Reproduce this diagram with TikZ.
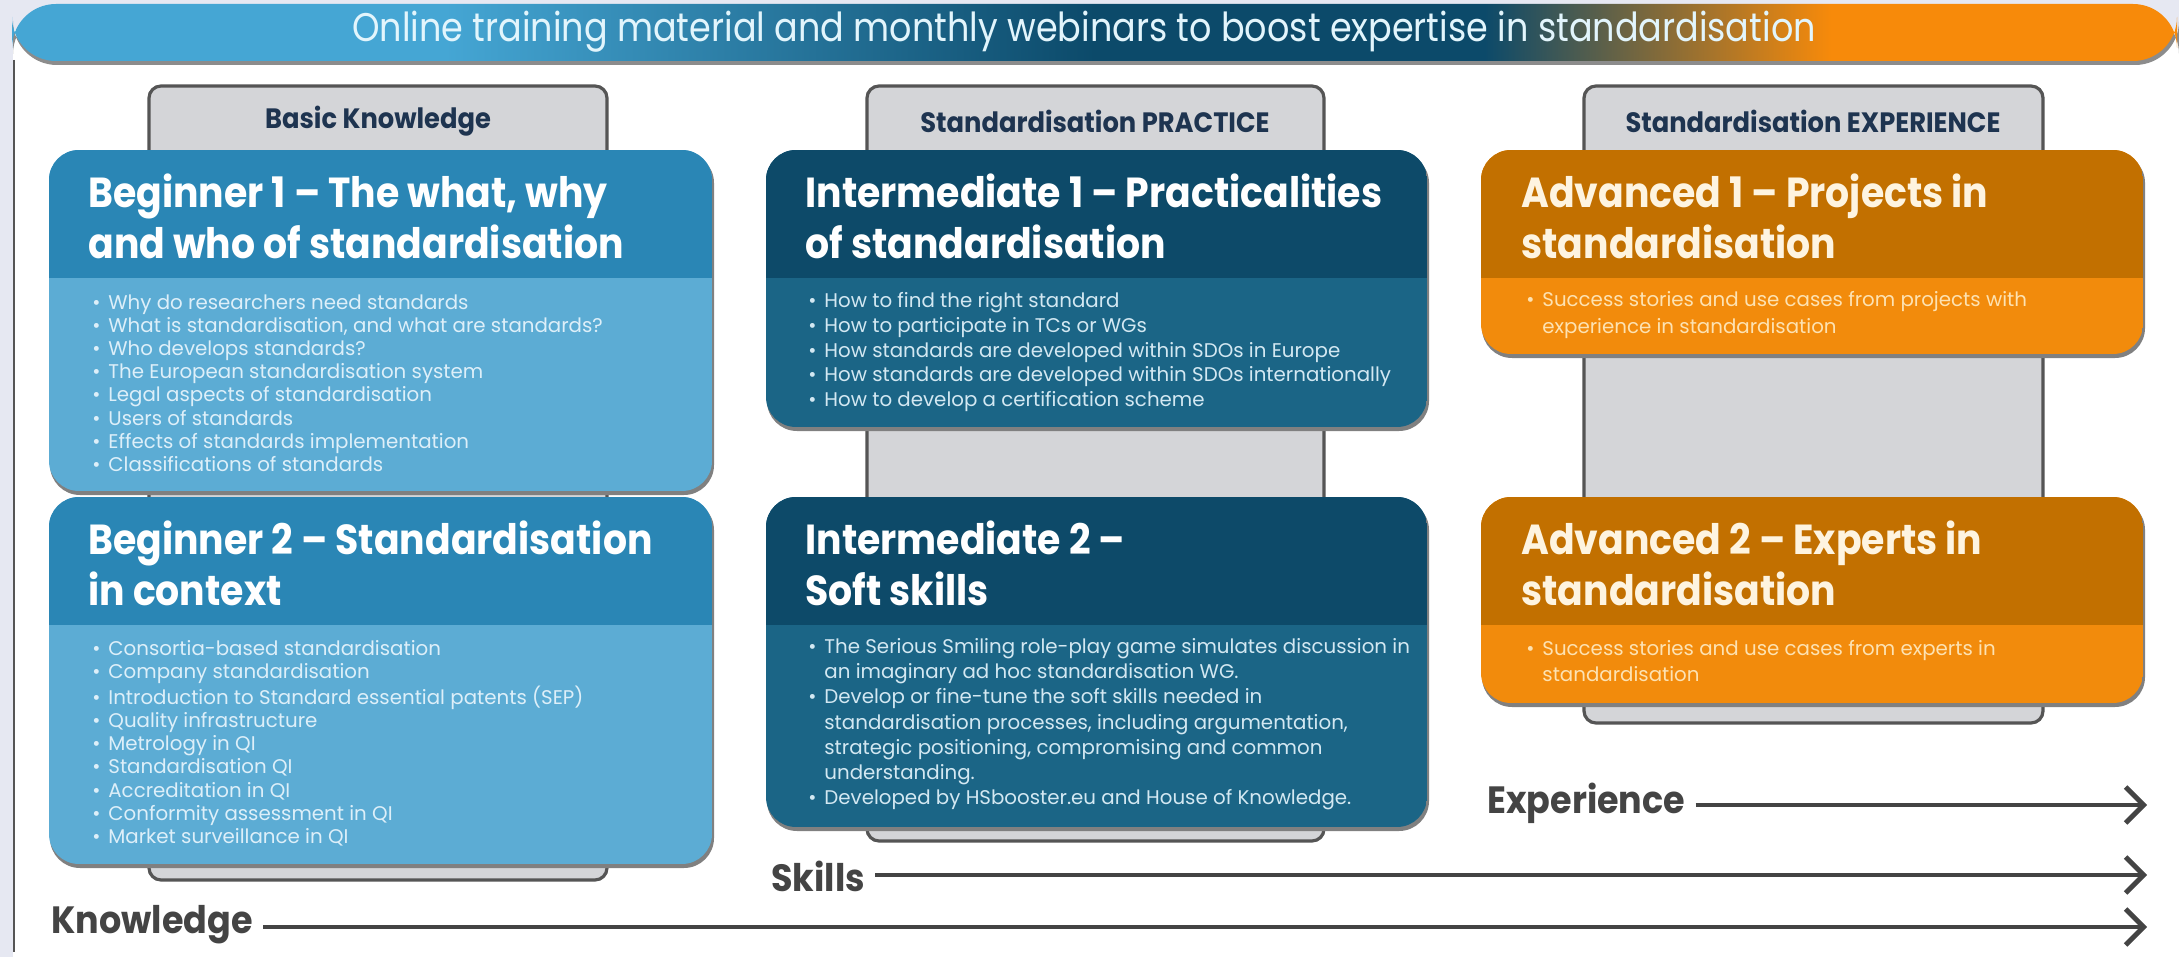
\documentclass[tikz,border=0pt]{standalone}
\usepackage{fontspec}
\setmainfont{Poppins}
\newfontfamily\headfont{Poppins}[FakeStretch=0.9]
\newfontfamily\titlefont{Poppins}[FakeStretch=0.875]
\newfontfamily\tabfont{Poppins}[FakeStretch=0.92]
\usetikzlibrary{arrows.meta}
\definecolor{framebg}{HTML}{E6E8F2}
\definecolor{bnA}{HTML}{45A6D4}
\definecolor{bnB}{HTML}{0C4A6A}
\definecolor{bnC}{HTML}{F78A0A}
\definecolor{begH}{HTML}{2A86B5}
\definecolor{begB}{HTML}{5CACD4}
\definecolor{intH}{HTML}{0D4A69}
\definecolor{intB}{HTML}{1B6586}
\definecolor{advH}{HTML}{C27000}
\definecolor{advB}{HTML}{F28B0C}
\definecolor{tabfill}{HTML}{D4D5D8}
\definecolor{tabline}{HTML}{555555}
\definecolor{tabtext}{HTML}{1E3450}
\definecolor{arrowgray}{HTML}{444444}
\definecolor{begT}{HTML}{DDEFF9}
\definecolor{intT}{HTML}{D3E8F2}
\definecolor{advT}{HTML}{FDE2B2}
\definecolor{titleT}{HTML}{E2F5FC}
\pgfdeclarehorizontalshading{banner}{100bp}{color(0bp)=(bnA); color(25bp)=(bnA); color(35bp)=(bnA); color(50bp)=(bnB); color(59bp)=(bnB); color(67bp)=(bnC); color(75bp)=(bnC); color(100bp)=(bnC)}
\newcommand\bl{\makebox[8pt][l]{\textbullet}}
\newcommand\cl{\hspace*{8pt}}
\newcommand\Card[8]{%
  \fill[black!50, rounded corners=15pt] (#2+1,#3+3) rectangle (#4+2,#6+4);
  \begin{scope}
    \clip[rounded corners=15pt] (#2,#3) rectangle (#4,#6);
    \fill[#8] (#2,#3) rectangle (#4,#6);
    \fill[#7] (#2,#3) rectangle (#4,#5);
  \end{scope}
  \coordinate (#1) at (#2,#3);
}
\newcommand\Tab[5]{%
  \draw[tabline, line width=1.6pt, fill=tabfill, rounded corners=6pt] (#2,#3) rectangle (#4,#5);
  \coordinate (#1) at (#2,#3);
}
\begin{document}
\begin{tikzpicture}[x=0.5pt,y=-0.5pt,
  tablabel/.style={font=\tabfont\fontsize{14}{16}\selectfont\bfseries, text=tabtext, inner sep=0pt},
  head/.style={font=\headfont\fontsize{21}{25.5}\selectfont\bfseries, align=left, inner sep=0pt},
  body/.style={font=\fontsize{9.9}{11.6}\selectfont, align=left, inner sep=0pt},
  lab/.style={font=\tabfont\fontsize{19}{22}\selectfont\bfseries, text=arrowgray, inner sep=2pt},
  arr/.style={draw=arrowgray, line width=2.4pt, -{Straight Barb[length=9pt,width=18pt]}}]
\useasboundingbox (0,0) rectangle (2179,957);
\fill[framebg] (0,0) rectangle (2179,957);
\fill[white] (13,30) rectangle (2179,957);
\draw[tabline, line width=0.8pt] (14,60) -- (14,952);
% banner
\fill[black!45, rounded corners=22pt] (13,10) rectangle (2179,65);
\shade[shading=banner, rounded corners=22pt] (12,4) rectangle (2177,61);
\node[font=\titlefont\fontsize{20}{24}\selectfont, text=titleT, inner sep=0pt, anchor=base] (title) at (1084,42) {Online training material and monthly webinars to boost expertise in standardisation};
% tabs
\Tab{tab1}{149}{86}{607}{880}
\Tab{tab2}{867}{86}{1324}{841}
\Tab{tab3}{1584}{86}{2043}{723}
\node[tablabel] (t1) at (378,121) {Basic Knowledge};
\node[tablabel] (t2) at (1095,121) {Standardisation PRACTICE};
\node[tablabel] (t3) at (1813,121) {Standardisation EXPERIENCE};
% column 1
\Card{b1}{49}{150}{712}{278}{491}{begH}{begB}
\Card{b2}{49}{497}{712}{625}{864}{begH}{begB}
\node[head, text=white, anchor=west] (b1h) at (88,216) {Beginner 1 – The what, why\\and who of standardisation};
\node[body, text=begT, anchor=north west] (b1l) at (92,294) {\bl Why do researchers need standards\\
\bl What is standardisation, and what are standards?\\
\bl Who develops standards?\\
\bl The European standardisation system\\
\bl Legal aspects of standardisation\\
\bl Users of standards\\
\bl Effects of standards implementation\\
\bl Classifications of standards};
\node[head, text=white, anchor=west] (b2h) at (88,563) {Beginner 2 – Standardisation\\in context};
\node[body, text=begT, anchor=north west] (b2l) at (92,640) {\bl Consortia-based standardisation\\
\bl Company standardisation\\
\bl Introduction to Standard essential patents (SEP)\\
\bl Quality infrastructure\\
\bl Metrology in QI\\
\bl Standardisation QI\\
\bl Accreditation in QI\\
\bl Conformity assessment in QI\\
\bl Market surveillance in QI};
% column 2
\Card{i1}{766}{150}{1427}{278}{427}{intH}{intB}
\Card{i2}{766}{497}{1427}{625}{827}{intH}{intB}
\node[head, text=white, anchor=west] (i1h) at (805,216) {Intermediate 1 – Practicalities\\of standardisation};
\node[body, text=intT, anchor=north west, font=\fontsize{9.9}{12.4}\selectfont] (i1l) at (808,292) {\bl How to find the right standard\\
\bl How to participate in TCs or WGs\\
\bl How standards are developed within SDOs in Europe\\
\bl How standards are developed within SDOs internationally\\
\bl How to develop a certification scheme};
\node[head, text=white, anchor=west] (i2h) at (805,563) {Intermediate 2 –\\Soft skills};
\node[body, text=intT, anchor=north west, font=\fontsize{9.9}{12.6}\selectfont] (i2l) at (808,638) {\bl The Serious Smiling role-play game simulates discussion in\\
\cl an imaginary ad hoc standardisation WG.\\
\bl Develop or fine-tune the soft skills needed in\\
\cl standardisation processes, including argumentation,\\
\cl strategic positioning, compromising and common\\
\cl understanding.\\
\bl Developed by HSbooster.eu and House of Knowledge.};
% column 3
\Card{a1}{1481}{150}{2143}{278}{354}{advH}{advB}
\Card{a2}{1481}{497}{2143}{625}{703}{advH}{advB}
\node[head, text=advT!40!white, anchor=west] (a1h) at (1521,216) {Advanced 1 – Projects in\\standardisation};
\node[body, text=advT, anchor=north west, font=\fontsize{9.9}{13.5}\selectfont] (a1l) at (1526,291) {\bl Success stories and use cases from projects with\\
\cl experience in standardisation};
\node[head, text=advT!40!white, anchor=west] (a2h) at (1521,563) {Advanced 2 – Experts in\\standardisation};
\node[body, text=advT, anchor=north west, font=\fontsize{9.9}{13}\selectfont] (a2l) at (1526,640) {\bl Success stories and use cases from experts in\\
\cl standardisation};
% axes
\node[lab, anchor=west] (exp) at (1483,803) {Experience};
\node[lab, anchor=west] (ski) at (767,876) {Skills};
\node[lab, anchor=west] (kno) at (47,925) {Knowledge};
\coordinate (expE) at (2147,805);
\coordinate (skiE) at (2147,875);
\coordinate (knoE) at (2147,927);
\draw[arr] (exp.east |- expE) ++(6,0) -- (expE);
\draw[arr] (ski.east |- skiE) ++(6,0) -- (skiE);
\draw[arr] (kno.east |- knoE) ++(6,0) -- (knoE);
\end{tikzpicture}
\end{document}
